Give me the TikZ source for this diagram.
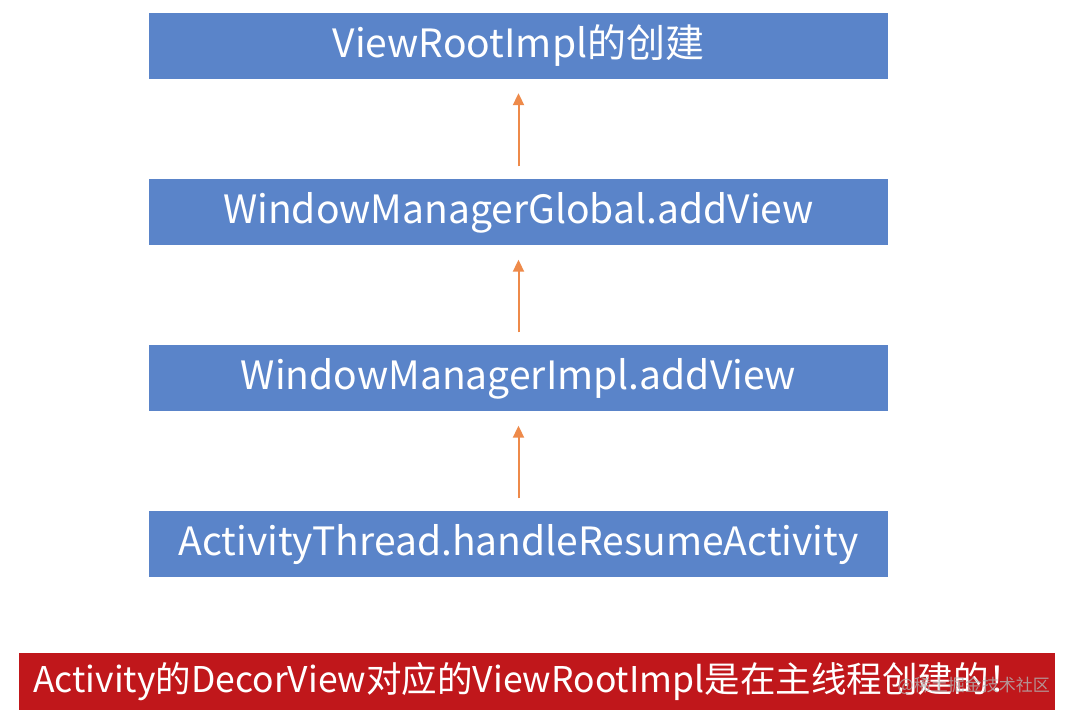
\documentclass[tikz,border=0pt]{standalone}
\usepackage{fontspec}
\setmainfont{Noto Sans CJK SC}
\usetikzlibrary{arrows.meta}
\definecolor{boxblue}{HTML}{5A84C9}
\definecolor{arrorange}{HTML}{EE8A4A}
\definecolor{boxred}{HTML}{C0171B}
\begin{document}
\begin{tikzpicture}[x=1pt,y=1pt,
  flowbox/.style={fill=boxblue,draw=none,minimum width=739pt,minimum height=66pt,inner sep=0pt,text=white,font=\fontsize{39}{44}\selectfont},
  uparrow/.style={draw=arrorange,line width=2pt,-{Triangle[width=11pt,length=12pt]},shorten <=13pt,shorten >=14pt}]
\useasboundingbox (0,0) rectangle (1072,718);
\fill[white] (0,0) rectangle (1072,718);
\node[flowbox] (b1) at (518.5,672) {ViewRootImpl的创建};
\node[flowbox] (b2) at (518.5,505.5) {WindowManagerGlobal.addView};
\node[flowbox] (b3) at (518.5,339.5) {WindowManagerImpl.addView};
\node[flowbox] (b4) at (518.5,173.5) {ActivityThread.handleResumeActivity};
\draw[uparrow] (b2.north) -- (b1.south);
\draw[uparrow] (b3.north) -- (b2.south);
\draw[uparrow] (b4.north) -- (b3.south);
\node[fill=boxred,minimum width=1036pt,minimum height=57pt,inner sep=0pt] (r) at (537,36.5) {};
\node[anchor=west,text=white,inner sep=0pt,font=\fontsize{35.5}{40}\selectfont] (rt) at (33,36.5) {Activity的DecorView对应的ViewRootImpl是在主线程创建的！};
\node[anchor=east,text=gray!60,opacity=0.8,inner sep=0pt,font=\fontsize{17}{20}\selectfont] (wm) at (1050,32) {@稀土掘金技术社区};
\end{tikzpicture}
\end{document}
